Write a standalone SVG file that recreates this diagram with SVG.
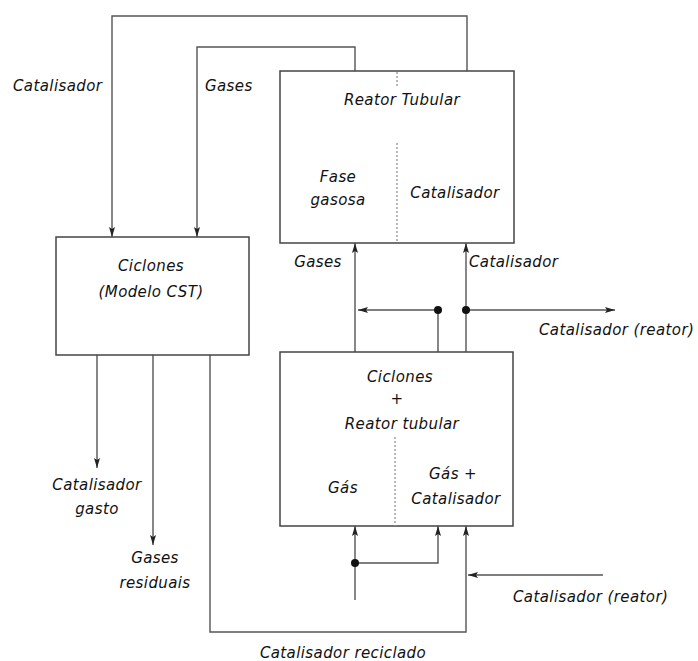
<svg xmlns="http://www.w3.org/2000/svg" width="698" height="661" viewBox="0 0 698 661">
<style>
.box{fill:#fff;stroke:#444;stroke-width:1.5}
.ln{fill:none;stroke:#555;stroke-width:1.4}
.dv{fill:none;stroke:#888;stroke-width:1.2;stroke-dasharray:2 2}
.t{font-family:"DejaVu Sans",sans-serif;font-style:italic;font-size:15px;fill:#111;letter-spacing:0.4px}
.m{text-anchor:middle}
.dot{fill:#111}
</style>
<defs>
<marker id="ah" viewBox="0 0 10 6" refX="10" refY="3" markerWidth="10" markerHeight="6" markerUnits="userSpaceOnUse" orient="auto">
<path d="M0,0 L10,3 L0,6 L2,3 Z" fill="#222"/>
</marker>
</defs>
<rect width="698" height="661" fill="#fff"/>
<g id="connectors">
<path class="ln" d="M467,71 V16 H112 V237" marker-end="url(#ah)"/>
<path class="ln" d="M355,71 V47 H197 V237" marker-end="url(#ah)"/>
<path class="ln" d="M97,355 V468" marker-end="url(#ah)"/>
<path class="ln" d="M153,355 V545" marker-end="url(#ah)"/>
<path class="ln" d="M210,355 V632 H466 V526" marker-end="url(#ah)"/>
<path class="ln" d="M355,352 V243" marker-end="url(#ah)"/>
<path class="ln" d="M466,352 V243" marker-end="url(#ah)"/>
<path class="ln" d="M438,352 V310 H358" marker-end="url(#ah)"/>
<path class="ln" d="M466,310 H615" marker-end="url(#ah)"/>
<path class="ln" d="M355,600 V526" marker-end="url(#ah)"/>
<path class="ln" d="M355,563 H438 V526" marker-end="url(#ah)"/>
<path class="ln" d="M603,575 H468" marker-end="url(#ah)"/>
<circle class="dot" cx="438" cy="310" r="4"/>
<circle class="dot" cx="466" cy="310" r="4"/>
<circle class="dot" cx="355" cy="563" r="4"/>
</g>
<g id="reator-tubular">
<rect class="box" x="280" y="71" width="234" height="172"/>
<path class="dv" d="M397,72 V88 M397,143 V243"/>
<text class="t m" x="402" y="105">Reator Tubular</text>
<text class="t m" x="338" y="182">Fase</text>
<text class="t m" x="338" y="205">gasosa</text>
<text class="t m" x="455" y="198">Catalisador</text>
</g>
<g id="ciclones-cst">
<rect class="box" x="56" y="237" width="193" height="118"/>
<text class="t m" x="151" y="271">Ciclones</text>
<text class="t m" x="151" y="297">(Modelo CST)</text>
</g>
<g id="ciclones-reator">
<rect class="box" x="280" y="352" width="233" height="174"/>
<path class="dv" d="M395,437 V526"/>
<text class="t m" x="400" y="382">Ciclones</text>
<text class="t m" x="397" y="404">+</text>
<text class="t m" x="402" y="429">Reator tubular</text>
<text class="t m" x="343" y="493">Gás</text>
<text class="t m" x="453" y="479">Gás +</text>
<text class="t m" x="456" y="504">Catalisador</text>
</g>
<g id="labels">
<text class="t" x="13" y="91">Catalisador</text>
<text class="t" x="205" y="91">Gases</text>
<text class="t m" x="318" y="267">Gases</text>
<text class="t" x="469" y="267">Catalisador</text>
<text class="t" x="539" y="335">Catalisador (reator)</text>
<text class="t" x="513" y="602">Catalisador (reator)</text>
<text class="t m" x="97" y="490">Catalisador</text>
<text class="t m" x="97" y="514">gasto</text>
<text class="t m" x="155" y="563">Gases</text>
<text class="t m" x="155" y="588">residuais</text>
<text class="t m" x="343" y="658">Catalisador reciclado</text>
</g>
</svg>
